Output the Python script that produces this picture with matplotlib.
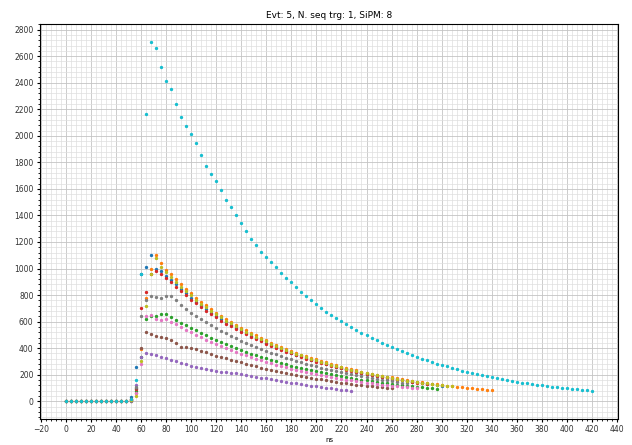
# SiPM waveforms for one event, one marker per 4 ns sample

import numpy as np
import matplotlib
matplotlib.use('Agg')
import matplotlib.pyplot as plt
from matplotlib.ticker import MultipleLocator

dt = 4  # ns per sample
base = [0] * 13  # flat baseline, t = 0..48 ns

ch0 = base + [30, 260, 960, 1010, 1100, 1000, 985, 940, 915, 880, 845, 812, 780, 750, 722, 694,
              668, 643, 620, 597, 575, 554, 534, 514, 495, 477, 459, 442, 425, 409, 394, 379,
              365, 352, 339, 326, 314, 303, 292, 281, 271, 261, 251, 242, 233, 224, 216, 208,
              200, 193, 186, 179, 172, 166, 160, 154, 148, 143, 137, 132, 127, 122, 118]
ch1 = base + [15, 60, 390, 780, 1000, 1100, 1040, 990, 955, 918, 880, 846, 812, 780, 750, 722,
              694, 668, 644, 620, 598, 576, 555, 534, 515, 496, 477, 459, 442, 425, 409, 394,
              380, 366, 352, 339, 327, 315, 303, 292, 281, 271, 261, 251, 242, 233, 224, 216,
              208, 200, 193, 186, 179, 172, 166, 160, 154, 148, 143, 137, 132, 127, 123, 118,
              114, 110, 105, 101, 97, 93, 89, 86, 82]
ch2 = base + [10, 80, 330, 620, 640, 640, 660, 656, 635, 610, 592, 573, 552, 533, 514, 496,
              478, 461, 445, 429, 414, 400, 386, 372, 359, 346, 334, 322, 311, 300, 289, 279,
              269, 260, 250, 241, 233, 225, 217, 209, 202, 195, 188, 181, 175, 169, 163, 157,
              151, 146, 141, 136, 131, 126, 122, 118, 113, 109, 105, 102, 98, 95]
ch3 = base + [10, 90, 700, 820, 960, 985, 960, 925, 895, 862, 828, 797, 766, 737, 709, 682,
              656, 631, 608, 585, 564, 543, 523, 504, 486, 468, 451, 434, 418, 402, 388, 373,
              360, 346, 334, 321, 310, 298, 287, 277, 267, 257, 247, 238, 229, 221, 213, 205,
              197, 190, 183, 176, 170, 163, 157, 151, 146, 140, 135, 130]
ch4 = base + [5, 120, 330, 365, 358, 345, 336, 325, 314, 303, 291, 279, 268, 259, 250, 242,
              236, 229, 223, 218, 213, 211, 206, 199, 192, 185, 178, 172, 165, 159, 152, 146,
              140, 134, 128, 123, 118, 113, 108, 103, 98, 93, 88, 83, 79]
ch5 = base + [20, 100, 400, 525, 505, 492, 483, 478, 462, 440, 408, 410, 402, 392, 380, 368,
              356, 344, 333, 322, 312, 302, 292, 282, 272, 263, 253, 244, 236, 228, 220, 212,
              204, 197, 190, 183, 176, 170, 164, 158, 152, 146, 141, 136, 131, 126, 121, 117,
              112, 108, 104, 100, 96]
ch6 = base + [5, 60, 280, 640, 650, 620, 610, 618, 600, 580, 560, 540, 520, 500, 482, 465,
              448, 432, 416, 401, 386, 372, 358, 345, 332, 320, 308, 297, 286, 275, 265, 255,
              246, 237, 228, 220, 212, 204, 196, 189, 182, 175, 169, 163, 157, 151, 145, 140,
              135, 130, 125, 120, 116, 112, 108, 104, 100, 96]
ch7 = base + [5, 110, 640, 760, 790, 785, 775, 790, 795, 760, 725, 696, 668, 642, 617, 594,
              571, 550, 530, 511, 492, 474, 457, 440, 424, 409, 394, 380, 366, 353, 340, 328,
              316, 305, 294, 283, 273, 263, 254, 245, 236, 227, 219, 211, 204, 196, 189, 182,
              176, 169, 163, 157, 152, 146, 141, 136]
ch8 = base + [10, 40, 300, 720, 960, 1080, 1010, 975, 935, 900, 862, 830, 797, 765, 736, 708,
              681, 655, 632, 608, 587, 565, 545, 525, 506, 487, 469, 451, 434, 418, 402, 387,
              373, 359, 346, 333, 321, 309, 298, 287, 276, 266, 256, 246, 237, 228, 220, 212,
              204, 196, 189, 182, 175, 169, 162, 156, 151, 145, 140, 134, 129, 124, 120, 115,
              111]
ch9 = base + [15, 160, 960, 2165, 2707, 2665, 2515, 2415, 2355, 2240, 2140, 2077, 2010, 1945,
              1852, 1770, 1715, 1662, 1595, 1520, 1465, 1400, 1346, 1280, 1223, 1175, 1128,
              1087, 1052, 1012, 970, 931, 896, 861, 826, 795, 762, 731, 703, 676, 652, 625,
              603, 580, 556, 536, 515, 496, 477, 458, 440, 424, 408, 393, 378, 364, 350, 335,
              321, 308, 296, 284, 272, 262, 251, 241, 231, 222, 213, 205, 196, 188, 181, 173,
              166, 160, 153, 147, 141, 135, 130, 124, 119, 114, 110, 105, 101, 97, 93, 89, 85,
              82, 78]

channels = [ch0, ch1, ch2, ch3, ch4, ch5, ch6, ch7, ch8, ch9]

fig, ax = plt.subplots(figsize=(6.32, 4.45), dpi=100)
fig.subplots_adjust(left=0.063, right=0.978, top=0.946, bottom=0.058)

for ch in channels:
    t = np.arange(len(ch)) * dt
    ax.plot(t, ch, '.', ms=2.8)

ax.set_title('Evt: 5, N. seq trg: 1, SiPM: 8', fontsize=6.5, pad=4)
ax.set_xlabel('ns', fontsize=5, labelpad=2)

ax.xaxis.set_major_locator(MultipleLocator(20))
ax.xaxis.set_minor_locator(MultipleLocator(4))
ax.yaxis.set_major_locator(MultipleLocator(200))
ax.yaxis.set_minor_locator(MultipleLocator(40))
ax.tick_params(labelsize=5.5, length=2.5, pad=2, labelcolor='#333333')
ax.tick_params(which='minor', length=1.5)
ax.grid(which='major', color='#c4c4c4', lw=0.6)
ax.grid(which='minor', color='#dedede', lw=0.5)
ax.set_axisbelow(True)

fig.savefig('out.png', dpi=100)
